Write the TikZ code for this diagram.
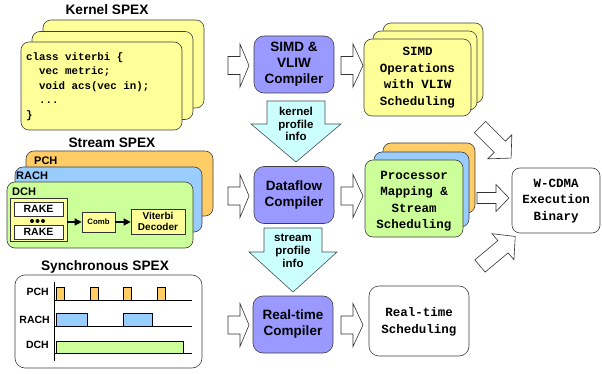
\documentclass[tikz,border=0pt]{standalone}
\usepackage{fontspec}
\setmainfont{Liberation Sans}
\newfontfamily\monof{Liberation Mono}
\usetikzlibrary{arrows.meta}
\definecolor{kyel}{HTML}{FFFF99}
\definecolor{cpur}{HTML}{9999FF}
\definecolor{pcyan}{HTML}{CCFFFF}
\definecolor{sorange}{HTML}{FFCC66}
\definecolor{sblue}{HTML}{99CCFF}
\definecolor{sgreen}{HTML}{CCFF99}
\newcommand\blkarrow[8]{\draw[#1, shift={(#2,#3)}, rotate=#4] (0,-#7) -- ({#5-#6},-#7) -- ({#5-#6},-#8) -- (#5,0) -- ({#5-#6},#8) -- ({#5-#6},#7) -- (0,#7) -- cycle;}
\begin{document}
\begin{tikzpicture}[x=1pt,y=-1pt,
  rbox/.style={draw=black!75, line width=0.6pt, rounded corners=8pt, inner sep=0pt},
  title/.style={font=\bfseries\fontsize{13.7}{15}\selectfont},
  comp/.style={rbox, fill=cpur, rounded corners=10pt, minimum width=80pt, minimum height=57pt, align=center, font=\bfseries\fontsize{13.5}{16}\selectfont},
  outt/.style={font=\monof\bfseries\fontsize{12.5}{16.5}\selectfont, align=center},
  harrow/.style={draw=black!80, fill=white, line width=0.6pt, line join=miter},
  parrow/.style={draw=black!70, fill=pcyan, line width=0.6pt, line join=miter},
  lbl/.style={font=\bfseries\fontsize{11}{12}\selectfont, inner sep=0pt},
  slbl/.style={font=\bfseries\fontsize{10.5}{12}\selectfont, inner sep=0pt, anchor=east},
  sq/.style={draw=black!80, line width=0.6pt, inner sep=0pt},
  sarrow/.style={line width=1.3pt, -{Triangle[length=7pt,width=7pt]}},
  pulse/.style={draw=black, line width=0.6pt}
]
\useasboundingbox (0,0) rectangle (602,374);

% ---------------- Kernel SPEX
\node[title] (kt) at (107,10) {Kernel SPEX};
\node[rbox, fill=kyel, minimum width=161pt, minimum height=88pt] (k3) at (123.5,64) {};
\node[rbox, fill=kyel, minimum width=161pt, minimum height=88pt] (k2) at (112.5,75.5) {};
\node[rbox, fill=kyel, minimum width=161pt, minimum height=88pt] (k1) at (101.5,86) {};
\node[anchor=west, inner sep=0pt, align=left, font=\monof\bfseries\fontsize{10.8}{14.5}\selectfont] (code) at (26,86.5)
 {class viterbi \{\\\ \ vec metric;\\\ \ void acs(vec in);\\\ \ ...\\\}};

% ---------------- Stream SPEX
\node[title] (st) at (112,143) {Stream SPEX};
\node[rbox, fill=sorange, minimum width=187pt, minimum height=65pt] (pch) at (119.5,183.5) {};
\node[rbox, fill=sblue, minimum width=187pt, minimum height=65pt] (rach) at (108.5,199.5) {};
\node[rbox, fill=sgreen, minimum width=186pt, minimum height=66pt] (dch) at (100,215) {};
\node[lbl, anchor=west] (pchl) at (34,161) {PCH};
\node[lbl, anchor=west] (rachl) at (16,176) {RACH};
\node[lbl, anchor=west] (dchl) at (12,192) {DCH};
\node[sq, fill=kyel, minimum width=57pt, minimum height=43pt] (rakes) at (38.5,219.5) {};
\node[sq, fill=white, minimum width=49pt, minimum height=14pt, font=\bfseries\fontsize{10.5}{11}\selectfont] (rake1) at (38.5,209) {RAKE};
\node[sq, fill=white, minimum width=49pt, minimum height=14pt, font=\bfseries\fontsize{10.5}{11}\selectfont] (rake2) at (38.5,232) {RAKE};
\fill (32,221) circle (2pt) (37.5,221) circle (2pt) (43,221) circle (2pt);
\node[sq, fill=kyel, minimum width=33pt, minimum height=20pt, font=\bfseries\fontsize{7.8}{9}\selectfont] (comb) at (98.5,222) {Comb};
\node[sq, fill=kyel, minimum width=54pt, minimum height=25pt, align=center, font=\bfseries\fontsize{10}{11.5}\selectfont] (vit) at (158,221.5) {Viterbi\\Decoder};
\draw[sarrow] (rakes.east |- comb.west) -- (comb.west);
\draw[sarrow] (comb.east) -- (vit.west |- comb.east);

% ---------------- Synchronous SPEX
\node[title] (syt) at (105,267) {Synchronous SPEX};
\node[rbox, fill=white, rounded corners=10pt, minimum width=187pt, minimum height=93pt] (sync) at (108.5,321.5) {};
\draw[line width=0.6pt] (54,282) -- (54,361);
\draw[line width=0.6pt] (54,300) -- (192,300) (54,326) -- (192,326) (54,353) -- (192,353);
\node[slbl] (spch) at (49,292) {PCH};
\node[slbl] (srach) at (50,320) {RACH};
\node[slbl] (sdch) at (49,345) {DCH};
\foreach \x in {56,90,123,157} \draw[pulse, fill=sorange] (\x,287) rectangle (\x+8.5,300);
\draw[pulse, fill=sblue] (56,313) rectangle (87,326);
\draw[pulse, fill=sblue] (123,313) rectangle (152,326);
\draw[pulse, fill=sgreen] (56,341) rectangle (183,353);

% ---------------- Compilers
\node[comp] (c1) at (294,64.5) {SIMD \&\\VLIW\\Compiler};
\node[comp] (c2) at (294,195) {Dataflow\\Compiler};
\node[comp] (c3) at (293,324.5) {Real-time\\Compiler};

% profile arrows
\blkarrow{parrow}{296}{101}{-90}{61}{38}{29}{45}
\node[align=center, inner sep=0pt, font=\bfseries\fontsize{11.5}{12.8}\selectfont] (kpi) at (296,124) {kernel\\profile\\info};
\blkarrow{parrow}{293}{228}{-90}{64}{40}{29}{44}
\node[align=center, inner sep=0pt, font=\bfseries\fontsize{11.5}{13}\selectfont] (spi) at (293,251) {stream\\profile\\info};

% hollow arrows
\foreach \y in {65.5,196,325} {
  \blkarrow{harrow}{228}{\y}{0}{21}{9}{9}{21.5}
  \blkarrow{harrow}{341}{\y}{0}{22}{10}{9}{21.5}
}

% ---------------- Outputs
\node[rbox, fill=kyel, minimum width=100pt, minimum height=80pt] (o1c) at (433,63) {};
\node[rbox, fill=kyel, minimum width=104pt, minimum height=79pt] (o1b) at (425,70.5) {};
\node[rbox, fill=kyel, minimum width=107pt, minimum height=77pt] (o1) at (417.5,77.5) {};
\node[outt] (o1t) at (417.5,77.5) {SIMD\\Operations\\with VLIW\\Scheduling};

\node[rbox, fill=sorange, minimum width=92pt, minimum height=70pt] (o2c) at (429,178) {};
\node[rbox, fill=sblue, minimum width=95pt, minimum height=75pt] (o2b) at (421.5,189.5) {};
\node[rbox, fill=sgreen, minimum width=98pt, minimum height=77pt] (o2) at (414,198.5) {};
\node[outt] (o2t) at (414,201) {Processor\\Mapping \&\\Stream\\Scheduling};

\node[rbox, fill=white, rounded corners=10pt, minimum width=100pt, minimum height=70pt] (o3) at (419,321) {};
\node[outt] (o3t) at (419,322) {Real-time\\Scheduling};

\node[rbox, fill=white, minimum width=88pt, minimum height=65pt] (wc) at (556,200.5) {};
\node[outt] (wct) at (556,201) {W-CDMA\\Execution\\Binary};

% arrows to W-CDMA
\blkarrow{harrow}{480}{127}{-45}{44}{16}{8}{17}
\blkarrow{harrow}{477}{198}{0}{32}{13}{5.5}{13.5}
\blkarrow{harrow}{480}{266}{40}{46}{16}{8}{17}
\end{tikzpicture}
\end{document}
